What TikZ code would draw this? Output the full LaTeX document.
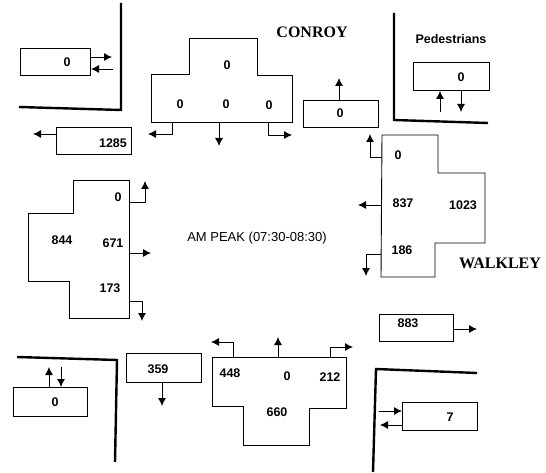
\documentclass[tikz,border=0pt]{standalone}
\usepackage{fontspec}
\setmainfont{Liberation Sans}
\newfontfamily\streetfont{Liberation Serif}
\usetikzlibrary{arrows.meta}
\tikzset{
  box/.style={draw, line width=0.9pt, inner sep=0pt, anchor=north west},
  shapeline/.style={draw, line width=0.9pt},
  num/.style={font=\bfseries\fontsize{12.5}{14}\selectfont, inner sep=0pt},
  arr/.style={-{Latex[length=8pt,width=8pt]}, line width=0.9pt},
  curb/.style={line width=2.4pt, line join=miter},
  street/.style={font=\streetfont\bfseries\fontsize{16}{18}\selectfont, inner sep=0pt},
}
\begin{document}
\begin{tikzpicture}[x=1pt,y=-1pt]
\useasboundingbox (0,0) rectangle (546,473);

% curbs
\draw[curb] (19,107) -- (121,110) -- (121,3);
\draw[curb] (394,13) -- (394,120) -- (488,123);
\draw[curb] (17,357) -- (117,360) -- (115,462);
\draw[curb] (477,373) -- (376,369) -- (373,472);

% street names and title
\node[street] (conroy) at (312,32) {CONROY};
\node[street] (walkley) at (500,263) {WALKLEY};
\node[font=\bfseries\fontsize{12.5}{14}\selectfont, inner sep=0pt] (ped) at (451,39) {Pedestrians};
\node[font=\fontsize{13}{15}\selectfont, inner sep=0pt] (title) at (257,238) {AM PEAK (07:30-08:30)};

% ---------- top-left pedestrians
\node[box, minimum width=70pt, minimum height=27pt] (pTL) at (20,48) {};
\node[num] (pTLt) at (67,62) {0};
\coordinate (pTLa) at (112,57);
\coordinate (pTLb) at (91,69);
\coordinate (pTLc) at (113,69);
\draw[arr] (pTL.east |- pTLa) -- (pTLa);
\draw[arr] (pTLc) -- (pTLb);

% ---------- 1285
\node[box, minimum width=75pt, minimum height=27pt] (b1285) at (56,127) {};
\node[num] (b1285t) at (113,143) {1285};
\coordinate (b1285a) at (33,134);
\draw[arr] (b1285.west |- b1285a) -- (b1285a);

% ---------- outbound north 0
\node[box, minimum width=75pt, minimum height=27pt] (bN) at (303,100) {};
\node[num] (bNt) at (340,113) {0};
\coordinate (bNa) at (339,78);
\draw[arr] (bN.north -| bNa) -- (bNa);

% ---------- top-right pedestrians
\node[box, minimum width=76pt, minimum height=28pt] (pTR) at (413,62) {};
\node[num] (pTRt) at (461,77) {0};
\coordinate (pTRa) at (440,112);
\coordinate (pTRb) at (461,112);
\draw[arr] (pTRa) -- (pTR.south -| pTRa);
\draw[arr] (pTR.south -| pTRb) -- (pTRb);

% ---------- 883
\node[box, minimum width=74pt, minimum height=27pt] (b883) at (379,314) {};
\node[num] (b883t) at (408,323) {883};
\coordinate (b883a) at (477,329);
\draw[arr] (b883.east |- b883a) -- (b883a);

% ---------- bottom-left pedestrians
\node[box, minimum width=74pt, minimum height=29pt] (pBL) at (13,387) {};
\node[num] (pBLt) at (55,402) {0};
\coordinate (pBLa) at (49,367);
\coordinate (pBLb) at (61,367);
\draw[arr] (pBL.north -| pBLa) -- (pBLa);
\draw[arr] (pBLb) -- (pBL.north -| pBLb);

% ---------- 359
\node[box, minimum width=75pt, minimum height=29pt] (b359) at (126,353) {};
\node[num] (b359t) at (158,369) {359};
\coordinate (b359a) at (162,406);
\draw[arr] (b359.south -| b359a) -- (b359a);

% ---------- bottom-right pedestrians
\node[box, minimum width=75pt, minimum height=28pt] (pBR) at (402,402) {};
\node[num] (pBRt) at (450,417) {7};
\coordinate (pBRa) at (379,411);
\coordinate (pBRb) at (380,425);
\draw[arr] (pBRa) -- (pBR.west |- pBRa);
\draw[arr] (pBR.west |- pBRb) -- (pBRb);

% ---------- north approach (Conroy, southbound)
\draw[shapeline] (189,38) -- (257,38) -- (257,75) -- (292,75) -- (292,122)
  -- (151,122) -- (151,74) -- (189,74) -- cycle;
\node[num] (nT) at (227,65) {0};
\node[num] (nL) at (180,104) {0};
\node[num] (nC) at (226,104) {0};
\node[num] (nR) at (269,105) {0};
\coordinate (nLs) at (172,122); \coordinate (nLe) at (148,134);
\coordinate (nCs) at (219,122); \coordinate (nCe) at (219,146);
\coordinate (nRs) at (268,122); \coordinate (nRe) at (292,135);
\draw[arr] (nLs) |- (nLe);
\draw[arr] (nCs) -- (nCe);
\draw[arr] (nRs) |- (nRe);

% ---------- east approach (Walkley, westbound)
\draw[shapeline] (382,135) -- (438,135) -- (438,173) -- (485,173) -- (485,243)
  -- (435,243) -- (435,277) -- (381,277) -- cycle;
\node[num] (eT) at (398,155) {0};
\node[num] (eC) at (403,203) {837};
\node[num] (eR) at (463,205) {1023};
\node[num] (eB) at (402,250) {186};
\coordinate (eTs) at (382,157); \coordinate (eTe) at (370,134);
\coordinate (eCs) at (382,205); \coordinate (eCe) at (358,205);
\coordinate (eBs) at (381,254); \coordinate (eBe) at (366,276);
\draw[arr] (eTs) -| (eTe);
\draw[arr] (eCs) -- (eCe);
\draw[arr] (eBs) -| (eBe);

% ---------- west approach (eastbound)
\draw[shapeline] (73,180) -- (129,180) -- (129,318) -- (69,318) -- (69,281)
  -- (28,281) -- (28,213) -- (73,213) -- cycle;
\node[num] (wT) at (118,197) {0};
\node[num] (wL) at (62,240) {844};
\node[num] (wC) at (113,243) {671};
\node[num] (wB) at (110,288) {173};
\coordinate (wTs) at (129,202); \coordinate (wTe) at (145,181);
\coordinate (wCs) at (129,253); \coordinate (wCe) at (151,253);
\coordinate (wBs) at (129,301); \coordinate (wBe) at (142,321);
\draw[arr] (wTs) -| (wTe);
\draw[arr] (wCs) -- (wCe);
\draw[arr] (wBs) -| (wBe);

% ---------- south approach (northbound)
\draw[shapeline] (212,357) -- (346,357) -- (346,408) -- (309,408) -- (309,445)
  -- (243,445) -- (243,406) -- (212,406) -- cycle;
\node[num] (sL) at (230,373) {448};
\node[num] (sC) at (287,376) {0};
\node[num] (sR) at (330,377) {212};
\node[num] (sB) at (277,412) {660};
\coordinate (sLs) at (233,357); \coordinate (sLe) at (211,342);
\coordinate (sCs) at (278,357); \coordinate (sCe) at (278,337);
\coordinate (sRs) at (330,357); \coordinate (sRe) at (353,347);
\draw[arr] (sLs) |- (sLe);
\draw[arr] (sCs) -- (sCe);
\draw[arr] (sRs) |- (sRe);
\end{tikzpicture}
\end{document}
